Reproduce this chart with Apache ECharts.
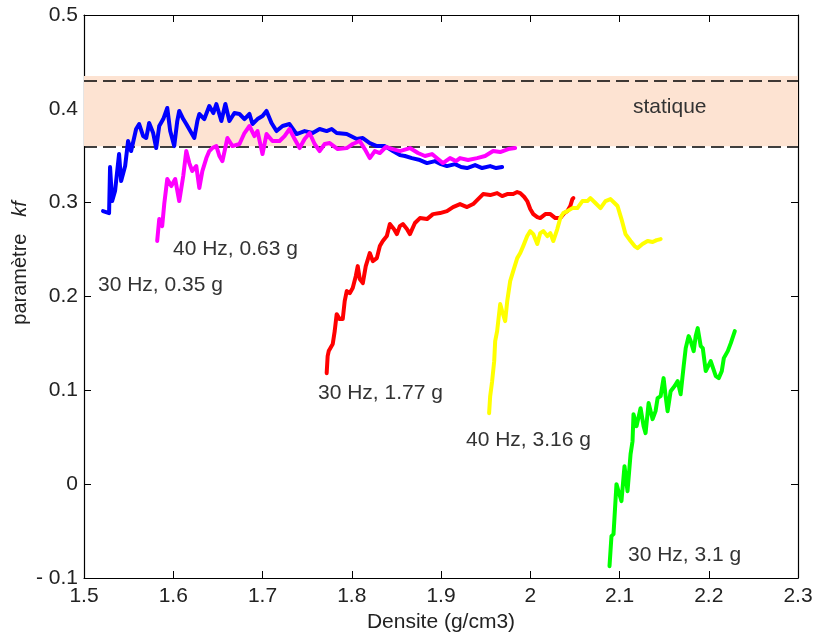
<!DOCTYPE html>
<html>
<head>
<meta charset="utf-8">
<script src="https://cdn.jsdelivr.net/npm/echarts@6/dist/echarts.min.js"></script>
<style>
  html, body { margin: 0; padding: 0; background: #fff; }
  #chart { width: 816px; height: 637px; }
</style>
</head>
<body>
<div id="chart"></div>
<script>
// axis ticks
var xTicks = [1.5, 1.6, 1.7, 1.8, 1.9, 2.0, 2.1, 2.2, 2.3];
var yTicks = [-0.1, 0, 0.1, 0.2, 0.3, 0.4, 0.5];

// "statique" band limits
var bandLow = 0.36;
var bandHigh = 0.435;

var seriesNames = ['30 Hz, 0.35 g', '40 Hz, 0.63 g', '30 Hz, 1.77 g', '40 Hz, 3.16 g', '30 Hz, 3.1 g'];

// [densite, kf]
var blue = [
  [1.5213,0.2910],[1.5281,0.2889],[1.5292,0.3380],[1.5315,0.3017],[1.5348,0.3124],[1.5393,0.3518],
  [1.5416,0.3230],[1.5461,0.3390],[1.5494,0.3657],[1.5528,0.3550],[1.5584,0.3785],[1.5618,0.3838],
  [1.5663,0.3710],[1.5697,0.3689],[1.5730,0.3849],[1.5775,0.3742],[1.5809,0.3582],[1.5843,0.3817],
  [1.5888,0.3891],[1.5933,0.4009],[1.5966,0.3763],[1.6011,0.3603],[1.6045,0.3870],[1.6067,0.3977],
  [1.6112,0.3891],[1.6146,0.3838],[1.6191,0.3763],[1.6236,0.3689],[1.6270,0.3870],[1.6292,0.3945],
  [1.6348,0.3891],[1.6404,0.4030],[1.6449,0.3955],[1.6483,0.4051],[1.6539,0.3870],[1.6584,0.4051],
  [1.6629,0.3870],[1.6685,0.3955],[1.6742,0.3945],[1.6798,0.3891],[1.6854,0.3945],[1.6888,0.3838],
  [1.6944,0.3891],[1.7000,0.3923],[1.7045,0.3977],[1.7101,0.3849],[1.7157,0.3763],[1.7225,0.3817],
  [1.7303,0.3838],[1.7382,0.3731],[1.7472,0.3763],[1.7562,0.3742],[1.7640,0.3785],[1.7719,0.3763],
  [1.7775,0.3785],[1.7831,0.3742],[1.7944,0.3731],[1.8056,0.3678],[1.8124,0.3689],[1.8202,0.3635],
  [1.8281,0.3603],[1.8371,0.3603],[1.8461,0.3550],[1.8539,0.3507],[1.8596,0.3497],[1.8674,0.3475],
  [1.8764,0.3454],[1.8843,0.3422],[1.8933,0.3443],[1.9000,0.3411],[1.9067,0.3390],[1.9157,0.3411],
  [1.9225,0.3380],[1.9292,0.3369],[1.9382,0.3401],[1.9461,0.3369],[1.9551,0.3390],[1.9618,0.3369],
  [1.9685,0.3380]
];
var magenta = [
  [1.5820,0.2591],[1.5843,0.2825],[1.5876,0.2750],[1.5899,0.2985],[1.5933,0.3252],[1.5978,0.3177],
  [1.6022,0.3252],[1.6067,0.3017],[1.6112,0.3284],[1.6146,0.3550],[1.6180,0.3422],[1.6213,0.3337],
  [1.6258,0.3390],[1.6292,0.3156],[1.6326,0.3337],[1.6371,0.3475],[1.6404,0.3550],[1.6438,0.3582],
  [1.6483,0.3603],[1.6517,0.3497],[1.6551,0.3443],[1.6607,0.3689],[1.6663,0.3603],[1.6742,0.3625],
  [1.6798,0.3742],[1.6854,0.3817],[1.6910,0.3710],[1.6944,0.3763],[1.7000,0.3518],[1.7045,0.3731],
  [1.7112,0.3657],[1.7191,0.3657],[1.7247,0.3710],[1.7303,0.3785],[1.7360,0.3678],[1.7416,0.3582],
  [1.7472,0.3678],[1.7528,0.3742],[1.7584,0.3625],[1.7640,0.3550],[1.7697,0.3625],[1.7753,0.3635],
  [1.7843,0.3571],[1.7944,0.3582],[1.8011,0.3625],[1.8090,0.3657],[1.8146,0.3571],[1.8202,0.3475],
  [1.8258,0.3550],[1.8315,0.3529],[1.8382,0.3593],[1.8461,0.3571],[1.8539,0.3550],[1.8652,0.3582],
  [1.8742,0.3529],[1.8820,0.3497],[1.8899,0.3518],[1.8966,0.3465],[1.9022,0.3422],[1.9101,0.3475],
  [1.9169,0.3443],[1.9213,0.3475],[1.9303,0.3454],[1.9404,0.3475],[1.9494,0.3497],[1.9584,0.3550],
  [1.9663,0.3539],[1.9753,0.3571],[1.9831,0.3582]
];
var red = [
  [1.7719,0.1183],[1.7730,0.1365],[1.7742,0.1418],[1.7787,0.1493],[1.7809,0.1631],[1.7831,0.1812],
  [1.7865,0.1759],[1.7899,0.1759],[1.7921,0.1951],[1.7944,0.2058],[1.7978,0.2036],[1.8011,0.2090],
  [1.8045,0.2217],[1.8067,0.2324],[1.8090,0.2185],[1.8124,0.2143],[1.8157,0.2324],[1.8202,0.2463],
  [1.8236,0.2377],[1.8281,0.2409],[1.8315,0.2537],[1.8348,0.2591],[1.8393,0.2644],[1.8427,0.2772],
  [1.8472,0.2719],[1.8506,0.2665],[1.8539,0.2750],[1.8573,0.2772],[1.8618,0.2719],[1.8652,0.2665],
  [1.8708,0.2783],[1.8764,0.2836],[1.8843,0.2825],[1.8910,0.2878],[1.8989,0.2889],[1.9067,0.2910],
  [1.9135,0.2953],[1.9213,0.2985],[1.9292,0.2953],[1.9360,0.2985],[1.9416,0.3038],[1.9472,0.3092],
  [1.9551,0.3081],[1.9629,0.3102],[1.9685,0.3070],[1.9742,0.3092],[1.9809,0.3092],[1.9854,0.3113],
  [1.9888,0.3102],[1.9933,0.3060],[1.9966,0.3017],[2.0000,0.2932],[2.0034,0.2878],[2.0079,0.2846],
  [2.0112,0.2836],[2.0169,0.2878],[2.0225,0.2878],[2.0281,0.2836],[2.0337,0.2836],[2.0382,0.2889],
  [2.0416,0.2910],[2.0449,0.2964],[2.0472,0.3038],[2.0483,0.3049]
];
var yellow = [
  [1.9539,0.0757],[1.9551,0.0938],[1.9573,0.1098],[1.9596,0.1311],[1.9607,0.1524],[1.9629,0.1631],
  [1.9663,0.1919],[1.9685,0.1844],[1.9719,0.1738],[1.9742,0.1951],[1.9775,0.2164],[1.9809,0.2271],
  [1.9854,0.2409],[1.9888,0.2463],[1.9921,0.2537],[1.9966,0.2644],[2.0000,0.2697],[2.0034,0.2665],
  [2.0079,0.2559],[2.0112,0.2676],[2.0146,0.2697],[2.0191,0.2644],[2.0225,0.2676],[2.0258,0.2591],
  [2.0303,0.2719],[2.0337,0.2836],[2.0371,0.2889],[2.0416,0.2910],[2.0472,0.2942],[2.0528,0.2942],
  [2.0584,0.3017],[2.0640,0.3017],[2.0674,0.3049],[2.0730,0.2996],[2.0787,0.2942],[2.0843,0.3017],
  [2.0899,0.3038],[2.0944,0.2996],[2.0978,0.2964],[2.1022,0.2825],[2.1067,0.2665],[2.1124,0.2591],
  [2.1169,0.2537],[2.1202,0.2516],[2.1258,0.2559],[2.1315,0.2591],[2.1371,0.2580],[2.1416,0.2601],
  [2.1461,0.2612]
];
var green = [
  [2.0888,-0.0874],[2.0899,-0.0714],[2.0910,-0.0554],[2.0933,-0.0533],[2.0966,0.0000],[2.0989,-0.0075],
  [2.1022,-0.0181],[2.1056,0.0192],[2.1090,-0.0075],[2.1124,0.0320],[2.1146,0.0458],[2.1157,0.0746],
  [2.1191,0.0618],[2.1213,0.0597],[2.1236,0.0810],[2.1270,0.0618],[2.1292,0.0544],[2.1326,0.0864],
  [2.1371,0.0693],[2.1404,0.0778],[2.1427,0.0917],[2.1461,0.0938],[2.1494,0.1130],[2.1517,0.0938],
  [2.1539,0.0778],[2.1573,0.0991],[2.1618,0.1045],[2.1652,0.1098],[2.1685,0.0959],[2.1719,0.1258],
  [2.1742,0.1450],[2.1775,0.1578],[2.1798,0.1525],[2.1831,0.1418],[2.1854,0.1578],[2.1876,0.1663],
  [2.1910,0.1471],[2.1933,0.1450],[2.1966,0.1205],[2.2022,0.1311],[2.2079,0.1151],[2.2112,0.1130],
  [2.2146,0.1205],[2.2169,0.1343],[2.2213,0.1418],[2.2247,0.1503],[2.2292,0.1631]
];

var colors = ['#0000ff', '#ff00ff', '#ff0000', '#ffff00', '#00ff00'];
var allData = [blue, magenta, red, yellow, green];

var FONT = 'Arimo, "Liberation Sans", Arial, Helvetica, sans-serif';

var chart = echarts.init(document.getElementById('chart'), null, { renderer: 'canvas' });

function fmtX(v) {
  return (Math.round(v * 10) / 10).toString();
}
function fmtY(v) {
  var r = Math.round(v * 10) / 10;
  if (r < 0) return '- ' + Math.abs(r);
  return r.toString();
}

var axisLineStyle = { color: '#000', width: 1.2 };
var tickStyle = { show: true, inside: true, length: 7, lineStyle: { color: '#000', width: 1 } };

var series = allData.map(function (d, i) {
  return {
    name: seriesNames[i],
    type: 'line',
    data: d,
    showSymbol: false,
    symbol: 'none',
    lineStyle: { color: colors[i], width: 4, join: 'round', cap: 'round' },
    z: 5 + i
  };
});

// band "statique" on an empty helper series
series.unshift({
  name: 'statique',
  type: 'line',
  data: [],
  z: 1,
  markArea: {
    silent: true,
    itemStyle: { color: '#fde3d2' },
    data: [[{ yAxis: bandLow }, { yAxis: bandHigh }]]
  },
  markLine: {
    silent: true,
    symbol: 'none',
    label: { show: false },
    lineStyle: { color: '#000', width: 1.5, type: [13, 6] },
    data: [{ yAxis: bandLow }, { yAxis: bandHigh }]
  }
});

function labelText(txt, x, y) {
  return {
    type: 'text', x: x, y: y, z: 100,
    style: { text: txt, fontFamily: FONT, fontSize: 21, fill: '#333', textAlign: 'left', textVerticalAlign: 'middle' }
  };
}

var option = {
  animation: false,
  backgroundColor: '#fff',
  grid: { left: 84, right: 18, top: 15, bottom: 59, outerBoundsMode: 'none', containLabel: false },
  xAxis: [{
    type: 'value',
    min: xTicks[0],
    max: xTicks[xTicks.length - 1],
    interval: 0.1,
    name: 'Densite (g/cm3)',
    nameLocation: 'middle',
    nameGap: 33,
    nameTextStyle: { fontFamily: FONT, fontSize: 21, color: '#222' },
    axisLine: { show: true, onZero: false, lineStyle: axisLineStyle },
    axisTick: tickStyle,
    axisLabel: { fontFamily: FONT, fontSize: 21, color: '#222', margin: 8, formatter: fmtX },
    splitLine: { show: false }
  }, {
    type: 'value',
    position: 'top',
    min: xTicks[0],
    max: xTicks[xTicks.length - 1],
    interval: 0.1,
    axisLine: { show: true, onZero: false, lineStyle: axisLineStyle },
    axisTick: tickStyle,
    axisLabel: { show: false },
    splitLine: { show: false }
  }],
  yAxis: [{
    type: 'value',
    min: yTicks[0],
    max: yTicks[yTicks.length - 1],
    interval: 0.1,
    axisLine: { show: true, onZero: false, lineStyle: axisLineStyle },
    axisTick: tickStyle,
    axisLabel: { fontFamily: FONT, fontSize: 21, color: '#222', margin: 6, formatter: fmtY },
    splitLine: { show: false }
  }, {
    type: 'value',
    position: 'right',
    min: yTicks[0],
    max: yTicks[yTicks.length - 1],
    interval: 0.1,
    axisLine: { show: true, onZero: false, lineStyle: axisLineStyle },
    axisTick: tickStyle,
    axisLabel: { show: false },
    splitLine: { show: false }
  }],
  series: series,
  graphic: [
    {
      type: 'text', x: 20, y: 263, rotation: Math.PI / 2, z: 100,
      style: {
        text: '{n|paramètre   }{i|kf}',
        textAlign: 'center',
        textVerticalAlign: 'middle',
        rich: {
          n: { fontFamily: FONT, fontSize: 20, fill: '#222' },
          i: { fontFamily: FONT, fontSize: 20, fontStyle: 'italic', fill: '#222' }
        }
      }
    },
    labelText('statique', 633, 107),
    labelText(seriesNames[1], 173, 249),
    labelText(seriesNames[0], 98, 285),
    labelText(seriesNames[2], 318, 393),
    labelText(seriesNames[3], 466, 440),
    labelText(seriesNames[4], 628, 555)
  ]
};

chart.setOption(option);
</script>
</body>
</html>
